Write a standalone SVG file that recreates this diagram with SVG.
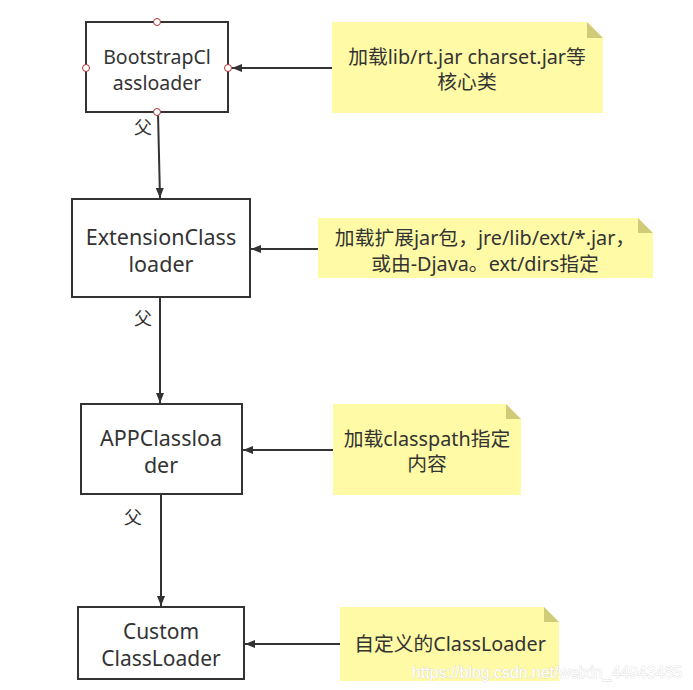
<svg xmlns="http://www.w3.org/2000/svg" width="693" height="690" viewBox="0 0 693 690">
<style>
.box{fill:#fff;stroke:#333;stroke-width:2}
.note{fill:#fffaa6}
.fold{fill:#cfcb79}
.t{font-family:"Noto Sans","Noto Sans CJK SC",sans-serif;fill:#333;text-anchor:middle;dominant-baseline:central}
.bt{font-size:21.5px}
.nt{font-size:19.8px}
.edge{stroke:#333;stroke-width:2;fill:none}
.pt{fill:#fff;stroke:#a33;stroke-width:1}
.wm{font-family:"Liberation Sans",Arial,sans-serif;font-size:16px;fill:#fff;stroke:#cfcfcf;stroke-width:0.6;paint-order:stroke}
</style>
<defs>
<marker id="ah" markerWidth="10" markerHeight="8" refX="10" refY="4" orient="auto" markerUnits="userSpaceOnUse">
<path d="M0,0 L10,4 L0,8 Z" fill="#333"/>
</marker>
</defs>
<rect width="693" height="690" fill="#fff"/>

<g id="n1">
<rect class="box" x="86" y="22" width="142" height="90"/>
<text class="t" style="font-size:19.5px"><tspan x="157" y="56">BootstrapCl</tspan><tspan x="157" y="82">assloader</tspan></text>
</g>
<g id="n2">
<rect class="box" x="72" y="199" width="178" height="98"/>
<text class="t bt"><tspan x="161" y="236">ExtensionClass</tspan><tspan x="161" y="263">loader</tspan></text>
</g>
<g id="n3">
<rect class="box" x="81" y="404" width="161" height="90"/>
<text class="t bt"><tspan x="161" y="437">APPClassloa</tspan><tspan x="161" y="464">der</tspan></text>
</g>
<g id="n4">
<rect class="box" x="78" y="607" width="166" height="72"/>
<text class="t" style="font-size:21px"><tspan x="161" y="631">Custom</tspan><tspan x="161" y="658">ClassLoader</tspan></text>
</g>

<g id="note1">
<path class="note" d="M332,22 H587 L603,38 V113 H332 Z"/>
<path class="fold" d="M587,22 L603,38 H587 Z"/>
<text class="t nt"><tspan x="467" y="56">加载lib/rt.jar charset.jar等</tspan><tspan x="467" y="81">核心类</tspan></text>
</g>
<g id="note2">
<path class="note" d="M318,218 H638 L653,233 V278 H318 Z"/>
<path class="fold" d="M638,218 L653,233 H638 Z"/>
<text class="t nt"><tspan x="485" y="237">加载扩展jar包，jre/lib/ext/*.jar，</tspan><tspan x="485" y="263">或由-Djava。ext/dirs指定</tspan></text>
</g>
<g id="note3">
<path class="note" d="M333,404 H506 L521,419 V495 H333 Z"/>
<path class="fold" d="M506,404 L521,419 H506 Z"/>
<text class="t nt"><tspan x="427" y="438">加载classpath指定</tspan><tspan x="427" y="463">内容</tspan></text>
</g>
<g id="note4">
<path class="note" d="M340,607 H544 L559,622 V681 H340 Z"/>
<path class="fold" d="M544,607 L559,622 H544 Z"/>
<text class="t nt" x="450" y="643">自定义的ClassLoader</text>
</g>

<g id="edges">
<path class="edge" d="M158,113 L160,198" marker-end="url(#ah)"/>
<path class="edge" d="M160,297 L160,403" marker-end="url(#ah)"/>
<path class="edge" d="M161,494 L161,606" marker-end="url(#ah)"/>
<path class="edge" d="M332,68 L232,68" marker-end="url(#ah)"/>
<path class="edge" d="M318,249 L251,249" marker-end="url(#ah)"/>
<path class="edge" d="M333,450 L243,450" marker-end="url(#ah)"/>
<path class="edge" d="M340,644 L245,644" marker-end="url(#ah)"/>
<text class="t" x="143" y="127" style="font-size:18px">父</text>
<text class="t" x="143" y="318" style="font-size:18px">父</text>
<text class="t" x="133" y="517" style="font-size:18px">父</text>
</g>

<g id="points">
<circle class="pt" cx="157" cy="22" r="3.5"/>
<circle class="pt" cx="86" cy="68" r="3.5"/>
<circle class="pt" cx="228" cy="68" r="3.5"/>
<circle class="pt" cx="157" cy="112" r="3.5"/>
</g>

<text class="wm" x="412" y="678" textLength="270" lengthAdjust="spacingAndGlyphs">https://blog.csdn.net/weixin_44943485</text>
</svg>
